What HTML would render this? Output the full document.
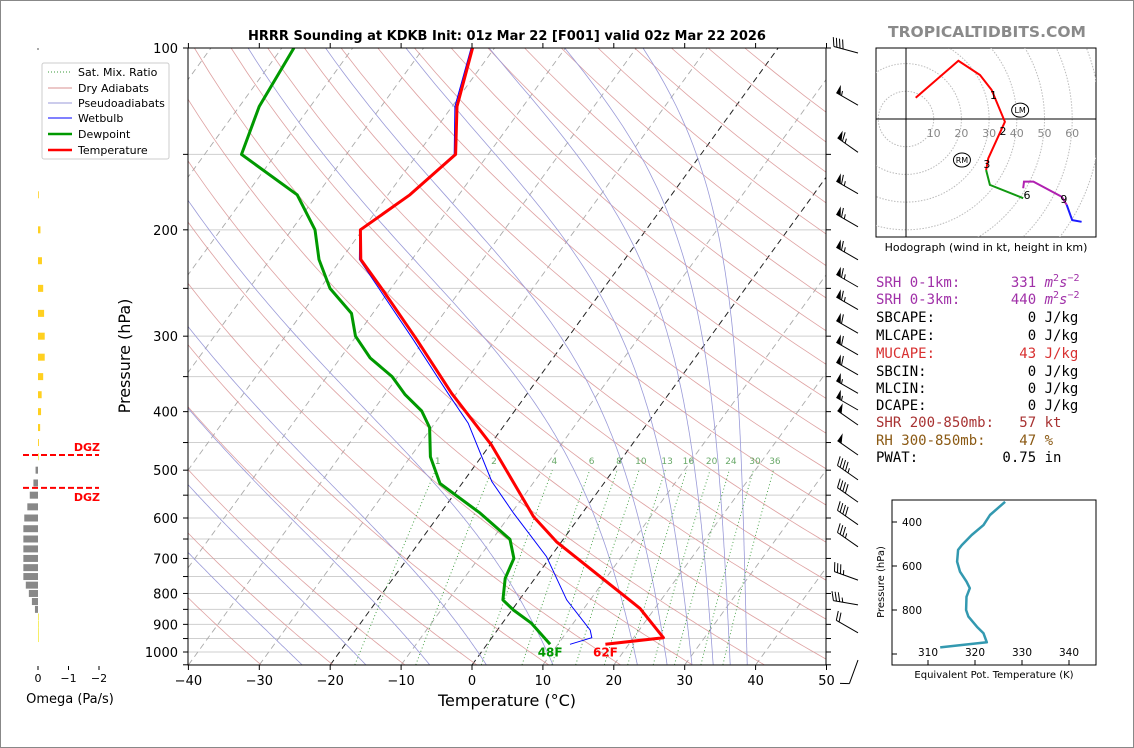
<!DOCTYPE html>
<html><head><meta charset="utf-8"><style>
html,body{margin:0;padding:0;background:#fff;}
svg{display:block;font-family:"DejaVu Sans","Liberation Sans",sans-serif;}
.mono{font-family:"DejaVu Sans Mono","Liberation Mono",monospace;font-size:14px;white-space:pre;}
</style></head><body>
<svg id="root" width="1134" height="748" viewBox="0 0 1134 748" xmlns="http://www.w3.org/2000/svg">
<rect x="0.5" y="0.5" width="1133" height="747" fill="#fff" stroke="#888"/>
<defs>
<clipPath id="mainclip"><rect x="188" y="48" width="638" height="617"/></clipPath>
<clipPath id="hodoclip"><rect x="876" y="48" width="220" height="189"/></clipPath>
<clipPath id="teclip"><rect x="892" y="500" width="204" height="165"/></clipPath>
</defs>
<text x="507" y="40" text-anchor="middle" font-size="13" font-weight="bold">HRRR Sounding at KDKB Init: 01z Mar 22 [F001] valid 02z Mar 22 2026</text>
<text x="987" y="37" text-anchor="middle" font-size="15.5" font-weight="bold" fill="#8a8a8a">TROPICALTIDBITS.COM</text>
<g id="bg" clip-path="url(#mainclip)"></g>
<g id="traces" clip-path="url(#mainclip)"></g>
<g id="axes"></g>
<g id="barbs"></g>
<g id="omega"></g>
<g id="hodo"></g>
<g id="te"></g>
<text x="130" y="356" transform="rotate(-90 130 356)" text-anchor="middle" font-size="16">Pressure (hPa)</text>
<text x="507" y="706" text-anchor="middle" font-size="16">Temperature (°C)</text>
<text x="70" y="703" text-anchor="middle" font-size="13">Omega (Pa/s)</text>
<text x="986" y="251" text-anchor="middle" font-size="11">Hodograph (wind in kt, height in km)</text>
<g>
<text class="mono" x="876" y="287" fill="#a030a8">SRH 0-1km:      331 <tspan font-style="italic">m</tspan><tspan font-size="10" dy="-6">2</tspan><tspan dy="6" font-style="italic">s</tspan><tspan font-size="10" dy="-6">−2</tspan></text>
<text class="mono" x="876" y="304" fill="#a030a8">SRH 0-3km:      440 <tspan font-style="italic">m</tspan><tspan font-size="10" dy="-6">2</tspan><tspan dy="6" font-style="italic">s</tspan><tspan font-size="10" dy="-6">−2</tspan></text>
<text class="mono" x="876" y="322" fill="#000">SBCAPE:           0 J/kg</text>
<text class="mono" x="876" y="340" fill="#000">MLCAPE:           0 J/kg</text>
<text class="mono" x="876" y="358" fill="#d83030">MUCAPE:          43 J/kg</text>
<text class="mono" x="876" y="376" fill="#000">SBCIN:            0 J/kg</text>
<text class="mono" x="876" y="393" fill="#000">MLCIN:            0 J/kg</text>
<text class="mono" x="876" y="410" fill="#000">DCAPE:            0 J/kg</text>
<text class="mono" x="876" y="427" fill="#a83232">SHR 200-850mb:   57 kt</text>
<text class="mono" x="876" y="445" fill="#8b5a14">RH 300-850mb:    47 %</text>
<text class="mono" x="876" y="462" fill="#000">PWAT:          0.75 in</text>
</g>
<g>
<rect x="42" y="63" width="127" height="96" fill="#fff" stroke="#ccc" rx="2"/>
<line x1="48" y1="72" x2="72" y2="72" stroke="#3a9a3a" stroke-dasharray="1,2"/>
<text x="78" y="76" font-size="11">Sat. Mix. Ratio</text>
<line x1="48" y1="88" x2="72" y2="88" stroke="#d89090"/>
<text x="78" y="92" font-size="11">Dry Adiabats</text>
<line x1="48" y1="103" x2="72" y2="103" stroke="#9a9ad8"/>
<text x="78" y="107" font-size="11">Pseudoadiabats</text>
<line x1="48" y1="118" x2="72" y2="118" stroke="#0000ff"/>
<text x="78" y="122" font-size="11">Wetbulb</text>
<line x1="48" y1="134" x2="72" y2="134" stroke="#009900" stroke-width="2.5"/>
<text x="78" y="138" font-size="11">Dewpoint</text>
<line x1="48" y1="150" x2="72" y2="150" stroke="#ff0000" stroke-width="2.5"/>
<text x="78" y="154" font-size="11">Temperature</text>
</g>
<script>
// ---------- data ----------
const tempP = [100,125,150,175,200,224,252,304,373,454,597,657,847,947,971];
const tempT = [-63.1,-59.3,-54.6,-56.9,-60.3,-57.2,-50.9,-41.1,-30.7,-19.8,-6.5,-0.7,17.9,24.2,16.7];
const dewP = [100,125,150,175,200,224,250,275,300,326,350,375,399,425,475,526,589,651,700,755,820,852,896,971];
const dewT = [-88.3,-87.2,-84.8,-72.8,-66.7,-63.1,-58.6,-53.0,-50.1,-45.8,-40.8,-37.1,-33.1,-30.3,-27.2,-23.1,-14.4,-7.5,-5.0,-4.2,-2.3,0.2,4.1,8.9];
const wbP = [100,125,150,175,200,224,252,304,373,418,522,589,695,820,920,947,971];
const wbT = [-63.3,-59.6,-54.8,-57.0,-60.4,-57.4,-51.3,-41.6,-31.2,-25.3,-16.0,-9.7,-0.6,6.7,13.1,14.1,11.7];
const sfcLabels = ["48F","62F"];
const dryThetaK = [230,240,250,260,270,280,290,300,310,320,330,340,350,360,370,380,390,400,410,420,430,440,450,460,470,480];
const moistStartT = [-24,-15,-6,2,11.4,23.3,27.5,31,34,36.4,38.8];
const mixRatios = [1,2,4,6,8,10,13,16,20,24,30,36];
const isotherms = [-120,-110,-100,-90,-80,-70,-60,-50,-40,-30,-20,-10,0,10,20,30,40,50];
const pressureGrid = [100,150,200,250,300,350,400,450,500,550,600,650,700,750,800,850,900,950,1000,1050];
const pressureLabels = [100,200,300,400,500,600,700,800,900,1000];
const tempTicks = [-40,-30,-20,-10,0,10,20,30,40,50];
const barbP = [100,122,146,171,194,220,244,266,291,316,341,366,390,413,463,509,554,604,657,746,820,912,1012];
const barbSpd = [40,55,65,65,65,65,65,65,60,60,60,55,55,50,50,45,40,40,35,35,35,20,10];
const barbDir = [285,300,305,300,300,300,300,300,300,300,300,300,300,305,305,305,305,305,305,290,280,300,200];
const omegaP = [175,200,225,250,275,300,325,350,375,400,425,450,475,500,525,550,575,600,625,650,675,700,725,750,775,800,825,850,875,900,925,950];
const omegaV = [-0.02,-0.08,-0.13,-0.17,-0.2,-0.22,-0.22,-0.17,-0.12,-0.1,-0.07,-0.03,0,0.08,0.15,0.27,0.35,0.45,0.48,0.48,0.48,0.48,0.48,0.48,0.4,0.3,0.2,0.1,-0.01,-0.01,-0.01,-0.01];
const omegaTicks = [0,-1,-2];
const dgzP = [472,535];
const hodoRedU = [3.5,18.9,26.7,30.9,35.7,29.7,28.9];
const hodoRedV = [7.7,21.0,15.9,10.5,-1.0,-14.2,-18.4];
const hodoGreenU = [28.9,30.3,42.3];
const hodoGreenV = [-18.4,-23.8,-28.6];
const hodoMagU = [42.3,42.6,46.0,56.2,58.0];
const hodoMagV = [-25.0,-22.6,-22.6,-28.1,-31.0];
const hodoBlueU = [58.0,60.0,63.4];
const hodoBlueV = [-31.0,-36.5,-37.1];
const hodoKm = ["1","2","3","6","9"];
const hodoKmU = [31.6,35.0,29.2,43.7,57.0];
const hodoKmV = [8.6,-4.3,-16.2,-27.4,-28.9];
const hodoRings = [10,20,30,40,50,60,70];
const stormNames = ["LM","RM"];
const stormU = [41.2,20.2];
const stormV = [3.2,-14.8];
const teP = [308,368,414,459,505,527,580,626,671,701,740,800,830,876,906,947,970];
const teK = [326.4,323.2,321.8,319.3,317.2,316.4,316.2,316.8,318.2,318.9,318.2,318.1,318.6,320.4,321.8,322.5,312.6];
const teXTicks = [310,320,330,340];
const teYTicks = [400,600,800,1000];

// ---------- helpers ----------
const NS="http://www.w3.org/2000/svg";
function mk(tag, attrs, parent){const e=document.createElementNS(NS,tag);for(const k in attrs)e.setAttribute(k,attrs[k]);parent.appendChild(e);return e;}
const yP = p => 48 + 604*Math.log10(p/100);
const xT = (T,p) => 472 + 7.09*T + 0.726*(665 - yP(p));
const bg=document.getElementById('bg'), tr=document.getElementById('traces'), ax=document.getElementById('axes');
function pathFrom(ps, ts){return ps.map((p,i)=>(i?'L':'M')+xT(ts[i],p).toFixed(1)+','+yP(p).toFixed(1)).join(' ');}

pressureGrid.forEach(p=>{
  const l=mk('line',{x1:188,x2:826,y1:yP(p),y2:yP(p),stroke:'#cfcfcf','stroke-width':1},bg);
  
  
});
isotherms.forEach(T=>{
  const blk=(T===0||T===-20);
  const l=mk('line',{x1:xT(T,1050),y1:yP(1050),x2:xT(T,100),y2:yP(100),stroke:blk?'#222':'#aaa','stroke-width':blk?1:0.9,'stroke-dasharray':'6,4'},bg);
  
  
});
dryThetaK.forEach(th=>{
  let d='';
  for(let p=1050;p>=100;p-=10){const T=th*Math.pow(p/1000,0.286)-273.15;d+=(d?'L':'M')+xT(T,p).toFixed(1)+','+yP(p).toFixed(1);}
  const e=mk('path',{d:d,fill:'none',stroke:'#d89090','stroke-width':0.8,opacity:0.85},bg);
  
  
});
function esat(Tk){return 6.112*Math.exp(17.67*(Tk-273.15)/(Tk-29.65));}
function dTdp(Tk,p){const es=esat(Tk);const rs=0.622*es/(p-es);const Rd=287,Cp=1005,Lv=2.5e6;return (Rd*Tk+Lv*rs)/(p*(Cp+Lv*Lv*rs*0.622/(Rd*Tk*Tk)));}
moistStartT.forEach(t0=>{
  let Tk=t0+273.15, p=1050, d='M'+xT(t0,p).toFixed(1)+','+yP(p).toFixed(1);
  while(p>100){const dp=-5;Tk+=dTdp(Tk,p)*dp;p+=dp;d+='L'+xT(Tk-273.15,p).toFixed(1)+','+yP(p).toFixed(1);}
  const e=mk('path',{d:d,fill:'none',stroke:'#9a9ad8','stroke-width':0.8},bg);
  
  
});
mixRatios.forEach(w=>{
  let d='';
  for(let p=1050;p>=500;p-=25){const e=w*p/(622+w);const l=Math.log(e/6.112);const Td=243.5*l/(17.67-l);d+=(d?'L':'M')+xT(Td,p).toFixed(1)+','+yP(p).toFixed(1);}
  const e=mk('path',{d:d,fill:'none',stroke:'#3a9a3a','stroke-width':0.9,'stroke-dasharray':'1,2.5'},bg);
  
  
  const ee=w*490/(622+w), ll=Math.log(ee/6.112), Tl=243.5*ll/(17.67-ll);
  const t=mk('text',{x:xT(Tl,490),y:yP(490)-1,'font-size':9,fill:'#6aaa6a','text-anchor':'middle'},bg);
  t.textContent=w;
  
  
});
const wb=mk('path',{d:pathFrom(wbP,wbT),fill:'none',stroke:'#0000ff','stroke-width':1},tr);


const dw=mk('path',{d:pathFrom(dewP,dewT),fill:'none',stroke:'#009900','stroke-width':3,'stroke-linejoin':'round'},tr);


const tp=mk('path',{d:pathFrom(tempP,tempT),fill:'none',stroke:'#ff0000','stroke-width':3,'stroke-linejoin':'round'},tr);


const l1=mk('text',{x:xT(dewT[dewT.length-1],dewP[dewP.length-1]),y:yP(dewP[dewP.length-1])+12,'font-size':12,'font-weight':'bold',fill:'#009900','text-anchor':'middle'},ax);
l1.textContent=sfcLabels[0];


const l2=mk('text',{x:xT(tempT[tempT.length-1],tempP[tempP.length-1]),y:yP(tempP[tempP.length-1])+12,'font-size':12,'font-weight':'bold',fill:'#ff0000','text-anchor':'middle'},ax);
l2.textContent=sfcLabels[1];


const fr=mk('rect',{x:188,y:48,width:638,height:617,fill:'none',stroke:'#000','stroke-width':1},ax);


tempTicks.forEach(T=>{
  const x=472+7.09*T;
  const a=mk('line',{x1:x,x2:x,y1:665,y2:670,stroke:'#000'},ax);
  
  
  const b=mk('line',{x1:x,x2:x,y1:43,y2:48,stroke:'#000'},ax);
  
  
  const t=mk('text',{x:x,y:685,'font-size':13,'text-anchor':'middle'},ax);
  t.textContent=(T<0?'\u2212':'')+Math.abs(T);
  
  
});
pressureGrid.forEach(p=>{
  const y=yP(p);
  const a=mk('line',{x1:183,x2:188,y1:y,y2:y,stroke:'#000'},ax);
  
  
  const b=mk('line',{x1:826,x2:831,y1:y,y2:y,stroke:'#000'},ax);
  
  
});
pressureLabels.forEach(p=>{
  const t=mk('text',{x:178,y:yP(p)+5,'font-size':13,'text-anchor':'end'},ax);
  t.textContent=p;
  
  
});
const bb=document.getElementById('barbs');
barbP.forEach((p,i)=>{
  const bx=858, by=yP(p)+5, L=25, a=barbDir[i]*Math.PI/180;
  const ux=Math.sin(a), uy=-Math.cos(a), nx=-uy, ny=ux;
  const tx=bx+ux*L, ty=by+uy*L;
  let d='M'+bx+','+by.toFixed(1)+'L'+tx.toFixed(1)+','+ty.toFixed(1);
  let s=Math.round(barbSpd[i]/5)*5, pos=0, poly='';
  while(s>=50){const x0=tx-ux*pos,y0=ty-uy*pos,x1=tx-ux*(pos+5),y1=ty-uy*(pos+5);poly+='M'+x0.toFixed(1)+','+y0.toFixed(1)+'L'+(x0+nx*9).toFixed(1)+','+(y0+ny*9).toFixed(1)+'L'+x1.toFixed(1)+','+y1.toFixed(1)+'Z';pos+=6;s-=50;}
  while(s>=10){const x0=tx-ux*pos,y0=ty-uy*pos;d+='M'+x0.toFixed(1)+','+y0.toFixed(1)+'L'+(x0+nx*9+ux*3).toFixed(1)+','+(y0+ny*9+uy*3).toFixed(1);pos+=3.2;s-=10;}
  if(s>=5){if(pos===0)pos=3.2;const x0=tx-ux*pos,y0=ty-uy*pos;d+='M'+x0.toFixed(1)+','+y0.toFixed(1)+'L'+(x0+nx*4.5+ux*1.5).toFixed(1)+','+(y0+ny*4.5+uy*1.5).toFixed(1);}
  const e=mk('path',{d:d,fill:'none',stroke:'#000','stroke-width':1},bb);
  
  
  if(poly){const f=mk('path',{d:poly,fill:'#000'},bb);
    
    }
});
const om=document.getElementById('omega');
const ox = v => 38 - v*30.5;
omegaP.forEach((p,i)=>{
  const v=omegaV[i], x0=ox(0), x1=ox(v);
  const r=mk('rect',{x:Math.min(x0,x1),y:yP(p)-3.5,width:Math.max(Math.abs(x1-x0),0.8),height:7,fill:v>0?'#888':(Math.abs(v)<0.02?'#f3ea40':'#ffd020')},om);
  
  
});
omegaTicks.forEach(v=>{
  const a=mk('line',{x1:ox(v),x2:ox(v),y1:666,y2:670,stroke:'#000'},om);
  
  
  const t=mk('text',{x:ox(v),y:682,'font-size':11,'text-anchor':'middle'},om);
  t.textContent=v===0?'0':'\u2212'+Math.abs(v);
  
  
});
const otk=mk('line',{x1:38,x2:38,y1:48,y2:50,stroke:'#555'},om);


dgzP.forEach((p,i)=>{
  const y=yP(p);
  const l=mk('line',{x1:23,x2:99,y1:y,y2:y,stroke:'#ff0000','stroke-width':2,'stroke-dasharray':'6,3'},om);
  
  
  const t=mk('text',{x:100,y:i===0?y-4:y+13,'font-size':11,'font-weight':'bold',fill:'#ff0000','text-anchor':'end'},om);
  t.textContent='DGZ';
  
  
});
const hg=document.getElementById('hodo');
const HX=906, HY=119, HS=2.77;
const hu=u=>HX+u*HS, hv=v=>HY-v*HS;
const hbox=mk('rect',{x:876,y:48,width:220,height:189,fill:'#fff',stroke:'#000'},hg);


const hin=mk('g',{'clip-path':'url(#hodoclip)'},hg);
hodoRings.forEach(r=>{
  const c=mk('circle',{cx:HX,cy:HY,r:r*HS,fill:'none',stroke:'#bbb','stroke-dasharray':'1.5,1.5'},hin);
  
  
});
const hx=mk('line',{x1:876,x2:1096,y1:HY,y2:HY,stroke:'#000'},hin);


const hy=mk('line',{x1:HX,x2:HX,y1:48,y2:237,stroke:'#000'},hin);


hodoRings.slice(0,6).forEach(r=>{
  const t=mk('text',{x:hu(r),y:HY+18,'font-size':11,fill:'#888','text-anchor':'middle'},hin);
  t.textContent=r;
  
  
});
[[hodoRedU,hodoRedV,'#ff0000','hodograph-0-3km'],[hodoGreenU,hodoGreenV,'#119911','hodograph-3-6km'],[hodoMagU,hodoMagV,'#b020b0','hodograph-6-9km'],[hodoBlueU,hodoBlueV,'#1a1aff','hodograph-9-12km']].forEach(s=>{
  const d=s[0].map((u,i)=>(i?'L':'M')+hu(u).toFixed(1)+','+hv(s[1][i]).toFixed(1)).join('');
  const e=mk('path',{d:d,fill:'none',stroke:s[2],'stroke-width':2},hin);
  
  
});
hodoKm.forEach((k,i)=>{
  const t=mk('text',{x:hu(hodoKmU[i]),y:hv(hodoKmV[i])+4,'font-size':11,'text-anchor':'middle',fill:'#000'},hin);
  t.textContent=k;
  
  
});
stormNames.forEach((n,i)=>{
  const c=mk('ellipse',{cx:hu(stormU[i]),cy:hv(stormV[i]),rx:8.5,ry:7,fill:'#fff',stroke:'#000'},hin);
  
  
  const t=mk('text',{x:hu(stormU[i]),y:hv(stormV[i])+3,'font-size':8,'text-anchor':'middle'},hin);
  t.textContent=n;
  
  
});
const te=document.getElementById('te');
const tx=k=>928+(k-310)*4.7, ty=p=>522+(p-400)*0.22;
const tbox=mk('rect',{x:892,y:500,width:204,height:165,fill:'#fff',stroke:'#000'},te);


const tpath=mk('path',{d:teP.map((p,i)=>(i?'L':'M')+tx(teK[i]).toFixed(1)+','+ty(p).toFixed(1)).join(''),fill:'none',stroke:'#3399b0','stroke-width':2.5,'clip-path':'url(#teclip)','stroke-linejoin':'round'},te);


teXTicks.forEach(k=>{
  const a=mk('line',{x1:tx(k),x2:tx(k),y1:665,y2:660,stroke:'#000'},te);
  
  
  const t=mk('text',{x:tx(k),y:656,'font-size':10.5,'text-anchor':'middle'},te);
  t.textContent=k;
  
  
});
teYTicks.forEach(p=>{
  const a=mk('line',{x1:892,x2:897,y1:ty(p),y2:ty(p),stroke:'#000'},te);
  
  
  if(p<1000){const t=mk('text',{x:922,y:ty(p)+4,'font-size':10.5,'text-anchor':'end'},te);
    t.textContent=p;
    
    }
});
const txl=mk('text',{x:994,y:678,'font-size':10,'text-anchor':'middle'},te);
txl.textContent='Equivalent Pot. Temperature (K)';


const tyl=mk('text',{x:884,y:582,'font-size':10,'text-anchor':'middle',transform:'rotate(-90 884 582)'},te);
tyl.textContent='Pressure (hPa)';


</script>
</svg>
</body></html>
